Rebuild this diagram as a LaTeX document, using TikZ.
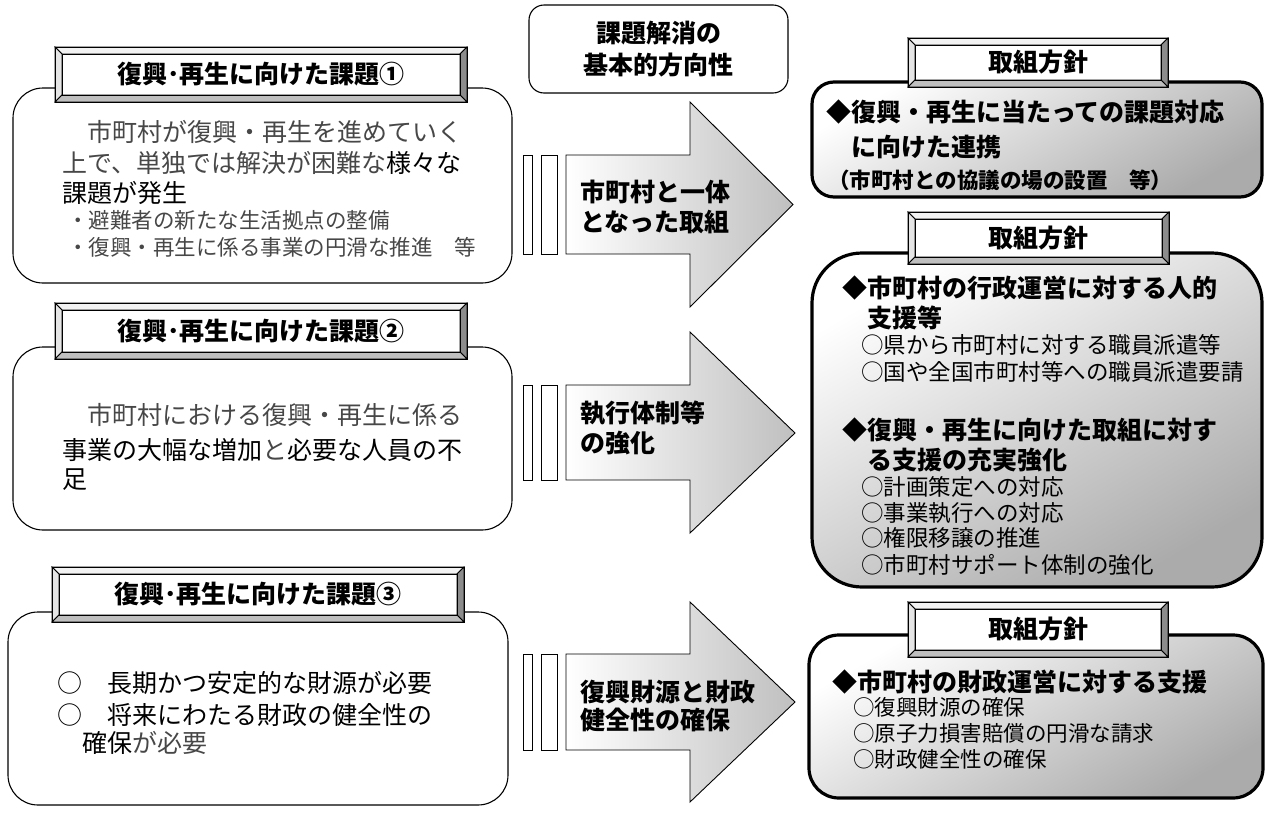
\documentclass[tikz,border=0pt]{standalone}
\usepackage{fontspec}
\setmainfont{Noto Sans CJK JP}
\newcommand\mcx[1]{\textcolor{black!72}{#1}}
\newcommand\bevelframe[6]{%
  \begin{scope}[shift={(#1,#2)}]
    \fill[white] (0,0) rectangle (#3,#4);
    \filldraw[bevline, fill=black!5] (0,0) -- (#3,0) -- (#3-7,7) -- (7,7) -- cycle;
    \filldraw[bevline, fill=black!10] (0,0) -- (7,7) -- (7,#4-7) -- (0,#4) -- cycle;
    \filldraw[bevline, fill=black!45] (#3,0) -- (#3,#4) -- (#3-7,#4-7) -- (#3-7,7) -- cycle;
    \filldraw[bevline, fill=black!25] (0,#4) -- (#3,#4) -- (#3-7,#4-7) -- (7,#4-7) -- cycle;
    \draw[bevline] (7,7) rectangle (#3-7,#4-7);
    \draw[bevline] (0,0) rectangle (#3,#4);
    \node[bigb, inner sep=0pt] (#5) at (#3/2,#4/2) {#6};
  \end{scope}}
\begin{document}
\begin{tikzpicture}[x=1pt,y=-1pt,
  bevline/.style={draw=black, line width=0.8pt},
  lbox/.style={draw=black, line width=1.1pt, rounded corners=30pt, fill=white},
  rbox/.style={draw=black, line width=3.2pt, top color=white, bottom color=black!33, shading angle=30},
  big/.style={font=\fontsize{25}{30}\selectfont},
  bigb/.style={font=\fontsize{25}{30}\selectfont\bfseries},
  sm/.style={font=\fontsize{21.5}{26}\selectfont},
  smr/.style={font=\fontsize{22.5}{26}\selectfont},
  ln/.style={anchor=west, inner sep=0pt},
  arr/.style={draw=black, line width=0.9pt, left color=white, right color=black!25},
  bar/.style={draw=black, line width=0.9pt, fill=white}]
\useasboundingbox (0,0) rectangle (1267,817);

% ---------- left boxes ----------
\draw[lbox] (13,88) rectangle (512,283);
\bevelframe{55}{47}{412}{55}{t1}{復興･再生に向けた課題①}
\node[ln, big] (b1a) at (62,132) {\mcx{　市町村が復興・再生を進めていく}};
\node[ln, big] (b1b) at (62,163) {\mcx{上で、単独では解決が困難な}様々な};
\node[ln, big] (b1c) at (62,193) {課題が発生};
\node[ln, sm] (b1d) at (67,220) {\mcx{・避難者の新たな生活拠点の整備}};
\node[ln, sm] (b1e) at (67,247) {\mcx{・復興・再生に係る事業の円滑な推進　等}};

\draw[lbox] (13,347) rectangle (512,530);
\bevelframe{55}{303}{412}{56}{t2}{復興･再生に向けた課題②}
\node[ln, big] (b2a) at (62,415) {\mcx{　市町村における復興・再生に係る}};
\node[ln, big] (b2b) at (62,450) {事業の大幅な増加\mcx{と}必要な人員の不};
\node[ln, big] (b2c) at (62,480) {足};

\draw[lbox] (8,612) rectangle (508,805);
\bevelframe{52}{567}{412}{55}{t3}{復興･再生に向けた課題③}
\node[ln, big] (b3a) at (57,683) {○　長期かつ安定的な財源が必要};
\node[ln, big] (b3b) at (57,715) {○　将来にわたる財政の健全性の};
\node[ln, big] (b3c) at (57,743) {　確保\mcx{が必要}};

% ---------- middle ----------
\draw[draw=black, line width=1.1pt, rounded corners=15pt, fill=white] (529,5) rectangle (788,93);
\node[bigb, inner sep=0pt] (m1) at (658.5,33) {課題解消の};
\node[bigb, inner sep=0pt] (m2) at (658.5,65) {基本的方向性};

\path[arr] (566,155) -- (690,155) -- (690,102) -- (793,204.5) -- (690,307) -- (690,254) -- (566,254) -- cycle;
\draw[bar] (523,155) rectangle (532,254);
\draw[bar] (541,155) rectangle (557,254);
\node[ln, bigb] (a1a) at (580,192) {市町村と一体};
\node[ln, bigb] (a1b) at (580,222) {となった取組};

\path[arr] (566,385) -- (690,385) -- (690,332) -- (795,433) -- (690,533) -- (690,480) -- (566,480) -- cycle;
\draw[bar] (523,385) rectangle (532,480);
\draw[bar] (541,385) rectangle (557,480);
\node[ln, bigb] (a2a) at (580,413) {執行体制等};
\node[ln, bigb] (a2b) at (580,443) {の強化};

\path[arr] (566,654) -- (690,654) -- (690,602) -- (795,702) -- (690,802) -- (690,750) -- (566,750) -- cycle;
\draw[bar] (523,654) rectangle (532,750);
\draw[bar] (541,654) rectangle (557,750);
\node[ln, bigb] (a3a) at (580,692) {復興財源と財政};
\node[ln, bigb] (a3b) at (580,720) {健全性の確保};

% ---------- right boxes ----------
\path[rbox, rounded corners=22pt] (812,82) rectangle (1262,197);
\bevelframe{908}{38}{260}{49}{tr1}{取組方針}
\node[ln, bigb] (r1a) at (826,112) {◆復興・再生に当たっての課題対応};
\node[ln, bigb] (r1b) at (851,147) {に向けた連携};
\node[ln, sm, font=\fontsize{21.5}{26}\selectfont\bfseries] (r1c) at (828,180) {（市町村との協議の場の設置　等）};

\path[rbox, rounded corners=50pt] (812,253) rectangle (1262,587);
\bevelframe{908}{212}{261}{52}{tr2}{取組方針}
\node[ln, bigb] (r2a) at (842,288) {◆市町村の行政運営に対する人的};
\node[ln, bigb] (r2b) at (867,318) {支援等};
\node[ln, smr] (r2c) at (861,345) {○県から市町村に対する職員派遣等};
\node[ln, smr] (r2d) at (861,372) {○国や全国市町村等への職員派遣要請};
\node[ln, bigb] (r2e) at (842,430) {◆復興・再生に向けた取組に対す};
\node[ln, bigb] (r2f) at (867,460) {る支援の充実強化};
\node[ln, smr] (r2g) at (861,487) {○計画策定への対応};
\node[ln, smr] (r2h) at (861,513) {○事業執行への対応};
\node[ln, smr] (r2i) at (861,538) {○権限移譲の推進};
\node[ln, smr] (r2j) at (861,565) {○市町村サポート体制の強化};

\path[rbox, rounded corners=30pt] (809,635) rectangle (1263,798);
\bevelframe{908}{602}{260}{55}{tr3}{取組方針}
\node[ln, bigb] (r3a) at (832,682) {◆市町村の財政運営に対する支援};
\node[ln, sm] (r3b) at (853,707) {○復興財源の確保};
\node[ln, sm] (r3c) at (853,733) {○原子力損害賠償の円滑な請求};
\node[ln, sm] (r3d) at (853,759) {○財政健全性の確保};
\end{tikzpicture}
\end{document}
